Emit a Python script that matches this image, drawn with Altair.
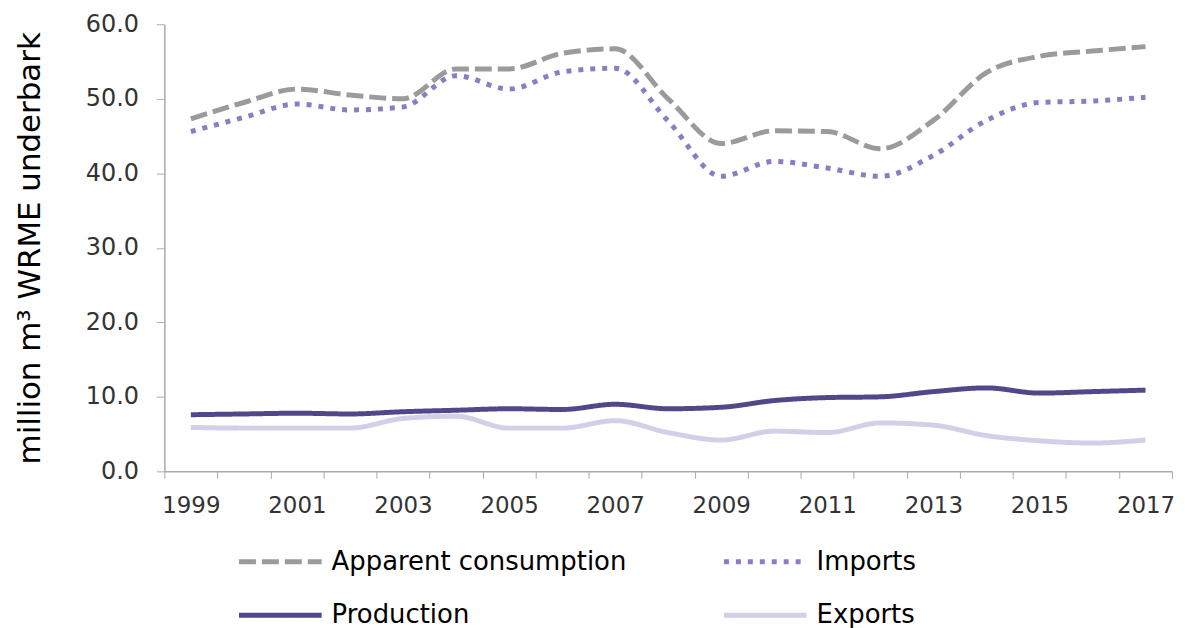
import altair as alt
import pandas as pd

years = list(range(1999, 2018))
apparent = [47.3, 49.5, 51.3, 50.5, 50.0, 54.0, 54.0, 56.1, 56.7, 50.0, 44.0, 45.7, 45.6, 43.3, 47.1, 53.5, 55.7, 56.4, 57.0]
imports = [45.6, 47.5, 49.3, 48.5, 48.9, 53.1, 51.3, 53.6, 54.1, 47.0, 39.6, 41.6, 40.7, 39.6, 42.4, 47.1, 49.5, 49.7, 50.2]
production = [7.6, 7.7, 7.8, 7.7, 8.0, 8.2, 8.4, 8.3, 9.0, 8.4, 8.6, 9.5, 9.9, 10.0, 10.7, 11.2, 10.5, 10.7, 10.9]
exports = [5.9, 5.8, 5.8, 5.8, 7.1, 7.4, 5.8, 5.8, 6.8, 5.2, 4.2, 5.4, 5.2, 6.5, 6.2, 4.8, 4.1, 3.8, 4.2]

series_names = ["Apparent consumption", "Imports", "Production", "Exports"]
series_colors = ["#9b9b9b", "#8e7cc3", "#54468a", "#d3cfe8"]
series_dash = [[17, 6], [5, 7], [1, 0], [1, 0]]

rows = []
for name, vals in zip(series_names, [apparent, imports, production, exports]):
    for y, v in zip(years, vals):
        rows.append({"year": y, "value": v, "series": name})
df = pd.DataFrame(rows)

tick_vals = [y - 0.5 for y in years] + [2017.5] + years

chart = alt.Chart(df).mark_line(
    strokeWidth=5, strokeCap="butt", interpolate="monotone"
).encode(
    x=alt.X("year:Q",
            scale=alt.Scale(domain=[1998.5, 2017.5], nice=False, zero=False),
            axis=alt.Axis(
                title=None,
                values=tick_vals,
                labelExpr="(datum.value % 2 == 1) ? datum.value : ''",
                labelOverlap=False,
                labelFontSize=23,
                labelFont="DejaVu Sans",
                labelColor="#333333",
                labelPadding=16,
                tickSize=7,
                tickColor="#aaaaaa",
                tickOpacity={"condition": {"test": "datum.value % 1 == 0", "value": 0}, "value": 1},
                domainColor="#aaaaaa",
                domainWidth=1.5,
                grid=False,
            )),
    y=alt.Y("value:Q",
            scale=alt.Scale(domain=[0, 60], nice=False),
            axis=alt.Axis(
                title="million m³ WRME underbark",
                titleFontSize=31,
                titleFont="DejaVu Sans",
                titleFontWeight="normal",
                titleColor="#000000",
                titlePadding=39,
                values=[0, 10, 20, 30, 40, 50, 60],
                format=".1f",
                labelFontSize=24,
                labelFont="DejaVu Sans",
                labelColor="#333333",
                labelPadding=18,
                tickSize=8,
                tickColor="#aaaaaa",
                domainColor="#aaaaaa",
                domainWidth=1.5,
                grid=False,
            )),
    color=alt.Color("series:N",
                    scale=alt.Scale(domain=series_names, range=series_colors),
                    sort=series_names,
                    legend=alt.Legend(
                        title=None,
                        orient="none",
                        direction="horizontal",
                        legendX=93,
                        legendY=516,
                        columns=2,
                        columnPadding=87,
                        rowPadding=17,
                        symbolType="M-2,0H2",
                        symbolSize=1722,
                        symbolStrokeWidth=5,
                        symbolFillColor="transparent",
                        labelFontSize=26,
                        labelFont="DejaVu Sans",
                        labelColor="#000000",
                        labelOffset=28,
                        labelLimit=400,
                    )),
    strokeDash=alt.StrokeDash("series:N",
                              scale=alt.Scale(domain=series_names, range=series_dash),
                              sort=series_names,
                              legend=None),
    order=alt.Order("year:Q"),
).properties(
    width=1012,
    height=449,
    padding={"left": 157, "top": 15, "right": 5, "bottom": 156},
    autosize=alt.AutoSizeParams(type="none"),
).configure_view(stroke=None)

chart.save("out.html", embed_options={"renderer": "svg", "actions": False})
